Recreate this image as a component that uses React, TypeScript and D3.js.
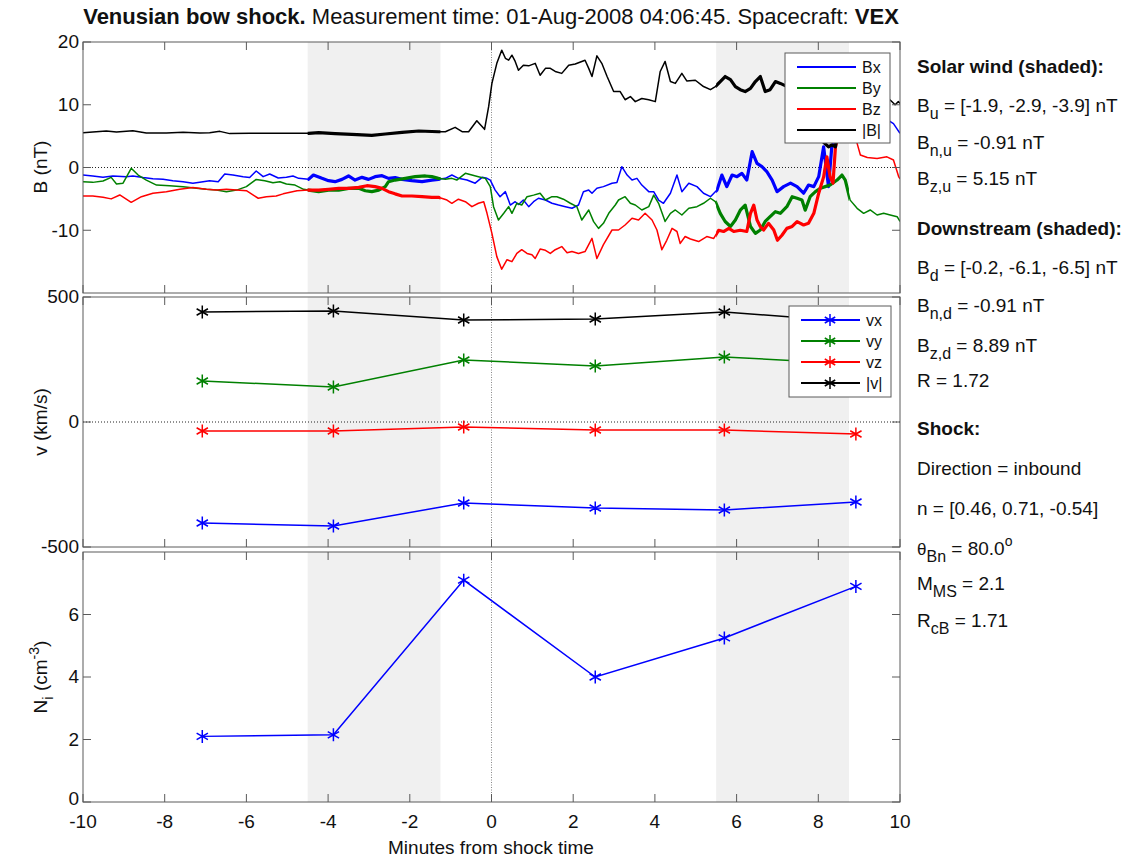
import React from "react";
import * as d3 from "d3";

const width = 1133;
const height = 858;
const left = 83;
const right = 900;
const font = "'Liberation Sans', Arial, Helvetica, sans-serif";

// shaded averaging windows (minutes from shock)
const upstreamWin = [-4.5, -1.25];
const downstreamWin = [5.5, 8.75];

// magnetic field, [minutes, nT]
const bxData = [
  [-10, -1.2], [-9.76, -1.35], [-9.51, -1.57], [-9.27, -1.35], [-8.94, -1.46], [-8.78, -1.35], [-8.53, -1.6],
  [-8.29, -1.78], [-8.04, -1.89], [-7.8, -2.1], [-7.55, -2.26], [-7.31, -2.5], [-7.06, -2.26], [-6.9, -2.1],
  [-6.69, -2.26], [-6.53, -1.04], [-6.33, -1.2], [-6.08, -1.46], [-5.92, -1.6], [-5.76, -0.56], [-5.59, -1.46],
  [-5.43, -1.04], [-5.22, -1.67], [-5.02, -1.57], [-4.86, -1.35], [-4.72, -1.73], [-4.48, -1.89], [-4.36, -1.2],
  [-4.15, -1.73], [-3.99, -2.1], [-3.83, -2.26], [-3.66, -1.89], [-3.5, -1.35], [-3.34, -2.0], [-3.17, -1.57],
  [-3.01, -1.89], [-2.85, -1.46], [-2.68, -1.3], [-2.52, -1.73], [-2.36, -1.62], [-2.19, -1.89], [-1.95, -2.1],
  [-1.7, -2.26], [-1.46, -2.0], [-1.3, -1.89], [-1.13, -1.73], [-0.97, -1.2], [-0.81, -1.73], [-0.6, -2.0],
  [-0.4, -2.5], [-0.23, -1.57], [-0.11, -1.73], [-0.03, -2.0], [0.09, -3.6], [0.21, -4.65], [0.34, -3.85],
  [0.46, -5.98], [0.58, -5.45], [0.66, -5.9], [0.78, -5.18], [0.91, -6.24], [1.03, -5.45], [1.15, -4.9],
  [1.32, -5.18], [1.48, -5.7], [1.64, -5.98], [1.81, -6.24], [1.97, -6.5], [2.13, -5.98], [2.25, -3.85],
  [2.38, -3.6], [2.46, -4.1], [2.58, -3.3], [2.74, -3.05], [2.95, -2.5], [3.07, -2.4], [3.19, 0.13], [3.32, -1.2],
  [3.44, -2.0], [3.56, -1.73], [3.68, -2.8], [3.85, -3.85], [3.97, -3.85], [4.09, -5.18], [4.21, -5.7],
  [4.38, -4.1], [4.54, -1.2], [4.66, -3.85], [4.83, -2.5], [5.03, -3.05], [5.19, -4.1], [5.36, -4.65],
  [5.52, -3.6], [5.64, -1.2], [5.76, -3.05], [5.89, -1.2], [6.01, -1.46], [6.13, -0.93], [6.25, -2.0],
  [6.38, 2.52], [6.5, 0.66], [6.62, 0.13], [6.74, -0.67], [6.87, -2.0], [6.99, -3.85], [7.15, -3.05],
  [7.32, -2.5], [7.48, -3.05], [7.64, -4.1], [7.76, -2.8], [7.89, -3.05], [8.01, -1.46], [8.13, 3.3],
  [8.25, -3.05], [8.33, 3.3], [8.45, 4.5], [8.6, 5.5], [8.8, 6.5], [9.0, 8.0], [9.3, 8.5], [9.6, 8.0],
  [9.84, 7.0], [10, 5.45],
];

const byData = [
  [-10, -2.26], [-9.76, -2.37], [-9.51, -2.15], [-9.31, -1.57], [-9.18, -2.63], [-9.02, -2.5], [-8.82, -0.13],
  [-8.65, -1.2], [-8.45, -2.0], [-8.2, -2.8], [-7.88, -2.9], [-7.55, -3.05], [-7.22, -3.3], [-6.98, -3.48],
  [-6.73, -3.6], [-6.49, -3.85], [-6.24, -3.6], [-6.0, -3.05], [-5.76, -1.9], [-5.55, -2.1], [-5.35, -2.44],
  [-5.18, -2.26], [-5.02, -2.63], [-4.81, -2.8], [-4.6, -3.48], [-4.48, -3.6], [-4.23, -3.85], [-3.99, -3.6],
  [-3.74, -3.6], [-3.5, -3.32], [-3.25, -3.32], [-3.09, -3.7], [-2.93, -3.85], [-2.76, -3.6], [-2.6, -3.05],
  [-2.52, -2.26], [-2.36, -2.0], [-2.11, -1.73], [-1.87, -1.46], [-1.62, -1.35], [-1.46, -1.46], [-1.3, -1.73],
  [-1.13, -1.89], [-0.97, -1.73], [-0.85, -2.0], [-0.64, -0.93], [-0.48, -1.2], [-0.32, -1.46], [-0.15, -1.73],
  [-0.03, -3.05], [0.05, -6.24], [0.17, -8.37], [0.3, -7.3], [0.42, -6.24], [0.5, -7.3], [0.62, -5.7],
  [0.74, -5.98], [0.87, -4.65], [1.03, -4.4], [1.19, -4.1], [1.32, -5.18], [1.48, -4.65], [1.6, -4.65],
  [1.76, -5.05], [1.93, -5.7], [2.09, -6.24], [2.21, -8.37], [2.38, -6.77], [2.5, -8.63], [2.62, -9.7],
  [2.74, -8.9], [2.87, -7.3], [3.03, -5.98], [3.11, -5.18], [3.27, -4.65], [3.4, -5.7], [3.52, -5.98],
  [3.68, -6.77], [3.85, -6.24], [3.97, -4.4], [4.09, -5.7], [4.25, -8.6], [4.38, -7.3], [4.5, -6.77],
  [4.66, -7.57], [4.83, -6.5], [5.03, -6.24], [5.19, -5.7], [5.36, -4.9], [5.48, -5.45], [5.6, -7.3],
  [5.72, -8.6], [5.85, -9.4], [5.97, -8.37], [6.09, -6.8], [6.21, -6.0], [6.34, -9.4], [6.46, -10.5],
  [6.58, -9.96], [6.7, -8.6], [6.82, -7.84], [6.95, -7.04], [7.07, -7.3], [7.23, -6.24], [7.36, -4.65],
  [7.48, -4.9], [7.6, -5.18], [7.68, -6.8], [7.8, -4.65], [7.93, -3.85], [8.05, -3.3], [8.17, -3.05],
  [8.29, -2.8], [8.46, -2.0], [8.58, -1.2], [8.66, -2.0], [8.78, -5.2], [8.95, -6.5], [9.11, -7.3],
  [9.27, -6.77], [9.44, -7.57], [9.6, -7.3], [9.76, -7.57], [9.93, -7.84], [10, -8.6],
];

const bzData = [
  [-10, -4.54], [-9.76, -4.54], [-9.51, -4.75], [-9.31, -5.0], [-9.1, -4.38], [-8.82, -5.55], [-8.57, -4.65],
  [-8.29, -4.1], [-7.96, -3.85], [-7.63, -3.48], [-7.31, -3.2], [-6.98, -3.48], [-6.73, -3.6], [-6.49, -3.48],
  [-6.24, -3.6], [-6.0, -3.7], [-5.71, -4.9], [-5.51, -4.65], [-5.27, -4.54], [-5.1, -4.2], [-4.76, -3.7],
  [-4.48, -3.6], [-4.23, -3.6], [-3.99, -3.48], [-3.74, -3.32], [-3.5, -3.32], [-3.25, -3.16], [-3.05, -2.9],
  [-2.85, -3.05], [-2.68, -3.32], [-2.52, -3.85], [-2.36, -4.2], [-2.19, -4.54], [-1.95, -4.54], [-1.7, -4.65],
  [-1.46, -4.75], [-1.3, -4.75], [-1.09, -5.18], [-0.97, -5.7], [-0.81, -5.05], [-0.64, -5.45], [-0.48, -6.24],
  [-0.32, -5.7], [-0.19, -5.45], [-0.11, -7.3], [0.01, -10.5], [0.13, -14.2], [0.25, -16.2], [0.38, -14.7],
  [0.5, -15.0], [0.62, -13.7], [0.74, -13.1], [0.87, -13.7], [0.99, -13.9], [1.07, -14.5], [1.19, -13.0],
  [1.32, -13.2], [1.44, -13.7], [1.56, -13.1], [1.72, -12.6], [1.85, -13.6], [1.97, -13.4], [2.13, -13.7],
  [2.29, -13.4], [2.46, -11.3], [2.58, -14.5], [2.74, -12.3], [2.95, -9.96], [3.11, -9.96], [3.27, -9.16],
  [3.44, -8.1], [3.6, -8.37], [3.76, -7.3], [3.93, -8.37], [4.05, -9.96], [4.17, -13.1], [4.29, -11.6],
  [4.42, -9.7], [4.54, -10.2], [4.62, -12.1], [4.74, -11.0], [4.87, -11.4], [5.07, -11.8], [5.27, -11.0],
  [5.44, -11.3], [5.56, -10.0], [5.68, -10.2], [5.81, -9.7], [5.93, -10.2], [6.09, -10.0], [6.25, -10.2],
  [6.34, -7.3], [6.42, -6.0], [6.5, -8.37], [6.58, -9.4], [6.66, -9.96], [6.78, -8.9], [6.91, -9.96],
  [7.0, -11.6], [7.11, -10.8], [7.23, -9.7], [7.36, -9.4], [7.48, -8.63], [7.64, -9.16], [7.76, -8.9],
  [7.89, -7.3], [8.01, -4.1], [8.13, -1.5], [8.21, 1.7], [8.29, -1.5], [8.36, -2.5], [8.42, 3.3], [8.5, 5.5],
  [8.7, 7.0], [8.85, 5.5], [8.95, 3.85], [9.03, 2.0], [9.2, 1.6], [9.44, 1.45], [9.68, 1.7], [9.84, 1.2],
  [9.97, -1.5], [10, -1.8],
];

const bMagData = [
  [-10, 5.55], [-9.76, 5.66], [-9.43, 5.8], [-9.18, 5.66], [-8.78, 5.87], [-8.45, 5.5], [-7.96, 5.5],
  [-7.55, 5.6], [-7.14, 5.5], [-6.9, 5.55], [-6.65, 5.76], [-6.41, 5.4], [-5.92, 5.45], [-5.51, 5.45],
  [-5.05, 5.45], [-4.48, 5.45], [-4.23, 5.55], [-3.83, 5.4], [-3.42, 5.29], [-2.93, 5.13], [-2.6, 5.34],
  [-2.19, 5.6], [-1.78, 5.82], [-1.3, 5.7], [-1.13, 5.7], [-0.89, 6.4], [-0.72, 5.7], [-0.56, 5.7],
  [-0.36, 7.46], [-0.17, 6.08], [-0.07, 9.7], [0.01, 13.4], [0.13, 16.6], [0.25, 18.7], [0.34, 17.4],
  [0.42, 17.1], [0.5, 17.9], [0.58, 16.9], [0.66, 15.5], [0.78, 16.3], [0.91, 16.2], [1.07, 16.6],
  [1.19, 14.7], [1.32, 15.8], [1.44, 15.8], [1.56, 15.3], [1.72, 15.0], [1.89, 16.3], [2.05, 16.5],
  [2.29, 17.1], [2.38, 15.8], [2.46, 14.5], [2.58, 17.8], [2.7, 16.6], [2.83, 14.5], [2.99, 12.1],
  [3.15, 12.1], [3.27, 10.8], [3.4, 11.3], [3.52, 10.5], [3.68, 11.0], [3.85, 10.8], [4.01, 10.5],
  [4.13, 15.3], [4.25, 16.9], [4.38, 13.7], [4.5, 13.4], [4.66, 15.0], [4.78, 13.8], [4.99, 13.9],
  [5.19, 12.9], [5.36, 12.4], [5.48, 12.9], [5.6, 13.7], [5.72, 14.5], [5.85, 14.0], [5.97, 12.9],
  [6.09, 12.4], [6.21, 12.1], [6.34, 12.6], [6.46, 13.7], [6.58, 14.5], [6.7, 12.1], [6.82, 12.4],
  [6.95, 13.7], [7.07, 13.4], [7.2, 13.0], [7.4, 13.5], [7.6, 12.8], [7.8, 13.2], [8.0, 11.0], [8.13, 4.0],
  [8.25, 3.3], [8.33, 3.6], [8.42, 3.3], [8.55, 9.0], [8.7, 12.0], [9.0, 11.5], [9.4, 11.0], [9.76, 10.75],
  [9.88, 10.0], [9.96, 10.5], [10, 10.2],
];

// ion moments
const momentTimes = [-7.08, -3.87, -0.68, 2.54, 5.7, 8.92];
const vxValues = [-404, -416, -324, -344, -352, -320];
const vyValues = [164, 140, 248, 224, 260, 232];
const vzValues = [-36, -36, -20, -32, -32, -48];
const vMagValues = [440, 444, 408, 412, 440, 400];
const densityValues = [2.1, 2.15, 7.1, 4.0, 5.25, 6.9];

const xTicks = [-10, -8, -6, -4, -2, 0, 2, 4, 6, 8, 10];
const bTicks = [-10, 0, 10, 20];
const vTicks = [-500, 0, 500];
const nTicks = [0, 2, 4, 6];

const BLUE = "#0000ff";
const GREEN = "#008000";
const RED = "#ff0000";
const BLACK = "#000000";
const FRAME = "#5a5a5a";
const SHADE = "#f0f0f0";

const x = d3.scaleLinear().domain([-10, 10]).range([left, right]);

const star = (r) =>
  `M0,${-r}L0,${r}M${-r * 0.87},${-r / 2}L${r * 0.87},${r / 2}M${-r * 0.87},${r / 2}L${r * 0.87},${-r / 2}`;

const Panel = ({ id, top, bottom, y, ticks, zero, children }) => {
  const tickLen = 8;
  return (
    <g>
      <defs>
        <clipPath id={`clip-${id}`}>
          <rect x={left} y={top} width={right - left} height={bottom - top} />
        </clipPath>
      </defs>
      <rect x={left} y={top} width={right - left} height={bottom - top} fill="#fff" />
      {[upstreamWin, downstreamWin].map((w, i) => (
        <rect key={i} x={x(w[0])} y={top} width={x(w[1]) - x(w[0])} height={bottom - top} fill={SHADE} />
      ))}
      {zero && (
        <line x1={left} x2={right} y1={y(0)} y2={y(0)} stroke="#222" strokeWidth={1} strokeDasharray="1,2" />
      )}
      <line x1={x(0)} x2={x(0)} y1={top} y2={bottom} stroke="#888" strokeWidth={1} strokeDasharray="1,1.5" />
      <g clipPath={`url(#clip-${id})`}>{children}</g>
      <rect x={left} y={top} width={right - left} height={bottom - top} fill="none" stroke={FRAME} strokeWidth={1} />
      {xTicks.map((t) => (
        <g key={t}>
          <line x1={x(t)} x2={x(t)} y1={top} y2={top + tickLen} stroke={FRAME} />
          <line x1={x(t)} x2={x(t)} y1={bottom} y2={bottom - tickLen} stroke={FRAME} />
        </g>
      ))}
      {ticks.map((t) => (
        <g key={t}>
          <line x1={left} x2={left + tickLen} y1={y(t)} y2={y(t)} stroke={FRAME} />
          <line x1={right} x2={right - tickLen} y1={y(t)} y2={y(t)} stroke={FRAME} />
          {/* the lowest label of the last panel sits a little higher so it clears the x labels */}
          <text
            x={left - 4}
            y={y(t)}
            dy={id === "n" && t === 0 ? "0.18em" : "0.33em"}
            textAnchor="end"
            fontSize={19}
            fill="#111"
          >
            {t}
          </text>
        </g>
      ))}
    </g>
  );
};

const Legend = ({ x0, y0, w, h, rows, markers }) => (
  <g>
    <rect x={x0} y={y0} width={w} height={h} fill="#fff" stroke={FRAME} strokeWidth={1} />
    {rows.map((r, i) => {
      const yy = y0 + 14 + i * 21;
      return (
        <g key={r.label}>
          <line x1={x0 + 12} x2={x0 + 71} y1={yy} y2={yy} stroke={r.color} strokeWidth={2} />
          {markers && (
            <path d={star(6)} transform={`translate(${x0 + 41},${yy})`} stroke={r.color} strokeWidth={1.5} fill="none" />
          )}
          <text x={x0 + 77} y={yy} dy="0.36em" fontSize={16} fill="#111">
            {r.label}
          </text>
        </g>
      );
    })}
  </g>
);

const App = () => {
  const yB = d3.scaleLinear().domain([-20, 20]).range([293, 42]);
  const yV = d3.scaleLinear().domain([-500, 500]).range([547, 297]);
  const yN = d3.scaleLinear().domain([0, 8]).range([802, 552]);

  const bLine = d3.line().x((d) => x(d[0])).y((d) => yB(d[1]));
  const bSeries = [
    { data: bxData, color: BLUE },
    { data: byData, color: GREEN },
    { data: bzData, color: RED },
    { data: bMagData, color: BLACK },
  ];

  const vSeries = [
    { values: vxValues, color: BLUE, label: "vx" },
    { values: vyValues, color: GREEN, label: "vy" },
    { values: vzValues, color: RED, label: "vz" },
    { values: vMagValues, color: BLACK, label: "|v|" },
  ];
  const vLine = d3.line().x((d, i) => x(momentTimes[i])).y((d) => yV(d));
  const nLine = d3.line().x((d, i) => x(momentTimes[i])).y((d) => yN(d));

  const textX = 917;
  const sub = (s, size = 16) => (
    <>
      <tspan dy={7} fontSize={size}>{s}</tspan>
      <tspan dy={-7}> </tspan>
    </>
  );

  return (
    <svg width={width} height={height} style={{ display: "block", position: "absolute", left: 0, top: 0 }} fontFamily={font}>
      <rect width={width} height={height} fill="#fff" />

      <text x={491} y={24} textAnchor="middle" fontSize={22} fill="#111">
        <tspan fontWeight="bold">Venusian bow shock.</tspan>
        <tspan> Measurement time: 01-Aug-2008 04:06:45. Spacecraft: </tspan>
        <tspan fontWeight="bold">VEX</tspan>
      </text>

      {/* magnetic field */}
      <defs>
        <clipPath id="clip-windows">
          {[upstreamWin, downstreamWin].map((w, i) => (
            <rect key={i} x={x(w[0])} y={42} width={x(w[1]) - x(w[0])} height={251} />
          ))}
        </clipPath>
      </defs>
      <Panel id="b" top={42} bottom={293} y={yB} ticks={bTicks} zero>
        {bSeries.map((s, i) => (
          <g key={i}>
            <path d={bLine(s.data)} fill="none" stroke={s.color} strokeWidth={1.5} strokeLinejoin="round" />
            <path d={bLine(s.data)} fill="none" stroke={s.color} strokeWidth={3.2} strokeLinejoin="round" clipPath="url(#clip-windows)" />
          </g>
        ))}
      </Panel>
      <Legend
        x0={785}
        y0={53}
        w={105}
        h={90}
        rows={[
          { label: "Bx", color: BLUE },
          { label: "By", color: GREEN },
          { label: "Bz", color: RED },
          { label: "|B|", color: BLACK },
        ]}
      />

      {/* velocity */}
      <Panel id="v" top={297} bottom={547} y={yV} ticks={vTicks} zero>
        {vSeries.map((s) => (
          <g key={s.label}>
            <path d={vLine(s.values)} fill="none" stroke={s.color} strokeWidth={1.5} />
            {s.values.map((v, i) => (
              <path key={i} d={star(6.5)} transform={`translate(${x(momentTimes[i])},${yV(v)})`} stroke={s.color} strokeWidth={1.5} fill="none" />
            ))}
          </g>
        ))}
      </Panel>
      <Legend
        x0={789}
        y0={306}
        w={102}
        h={91}
        markers
        rows={vSeries.map((s) => ({ label: s.label, color: s.color }))}
      />

      {/* density */}
      <Panel id="n" top={552} bottom={802} y={yN} ticks={nTicks}>
        <path d={nLine(densityValues)} fill="none" stroke={BLUE} strokeWidth={1.5} />
        {densityValues.map((v, i) => (
          <path key={i} d={star(6.5)} transform={`translate(${x(momentTimes[i])},${yN(v)})`} stroke={BLUE} strokeWidth={1.5} fill="none" />
        ))}
      </Panel>

      {xTicks.map((t) => (
        <text key={t} x={x(t)} y={828} textAnchor="middle" fontSize={19} fill="#111">
          {t}
        </text>
      ))}
      <text x={491} y={854} textAnchor="middle" fontSize={19} fill="#111">
        Minutes from shock time
      </text>

      <text transform={`translate(47,${167})rotate(-90)`} textAnchor="middle" fontSize={19} fill="#111">
        B (nT)
      </text>
      <text transform={`translate(47,${422})rotate(-90)`} textAnchor="middle" fontSize={19} fill="#111">
        v (km/s)
      </text>
      <text transform={`translate(47,${677})rotate(-90)`} textAnchor="middle" fontSize={19} fill="#111">
        <tspan>N</tspan>
        <tspan dy={6} fontSize={15}>i</tspan>
        <tspan dy={-6}> (cm</tspan>
        <tspan dy={-8} fontSize={14}>-3</tspan>
        <tspan dy={8}>)</tspan>
      </text>

      {/* shock summary */}
      <g fontSize={19} fill="#111">
        <text x={textX} y={73} fontWeight="bold">Solar wind (shaded):</text>
        <text x={textX} y={112}>B{sub("u")}= [-1.9, -2.9, -3.9] nT</text>
        <text x={textX} y={149}>B{sub("n,u")}= -0.91 nT</text>
        <text x={textX} y={185}>B{sub("z,u")}= 5.15 nT</text>
        <text x={textX} y={235} fontWeight="bold">Downstream (shaded):</text>
        <text x={textX} y={274}>B{sub("d")}= [-0.2, -6.1, -6.5] nT</text>
        <text x={textX} y={312}>B{sub("n,d")}= -0.91 nT</text>
        <text x={textX} y={352}>B{sub("z,d")}= 8.89 nT</text>
        <text x={textX} y={387}>R = 1.72</text>
        <text x={textX} y={435} fontWeight="bold">Shock:</text>
        <text x={textX} y={475}>Direction = inbound</text>
        <text x={textX} y={515}>n = [0.46, 0.71, -0.54]</text>
        <text x={textX} y={555}>
          <tspan fontSize={17}>θ</tspan>
          {sub("Bn")}= 80.0
          <tspan dy={-9} fontSize={14}>o</tspan>
        </text>
        <text x={textX} y={590}>M{sub("MS")}= 2.1</text>
        <text x={textX} y={627}>R{sub("cB")}= 1.71</text>
      </g>
    </svg>
  );
};

export default App;
